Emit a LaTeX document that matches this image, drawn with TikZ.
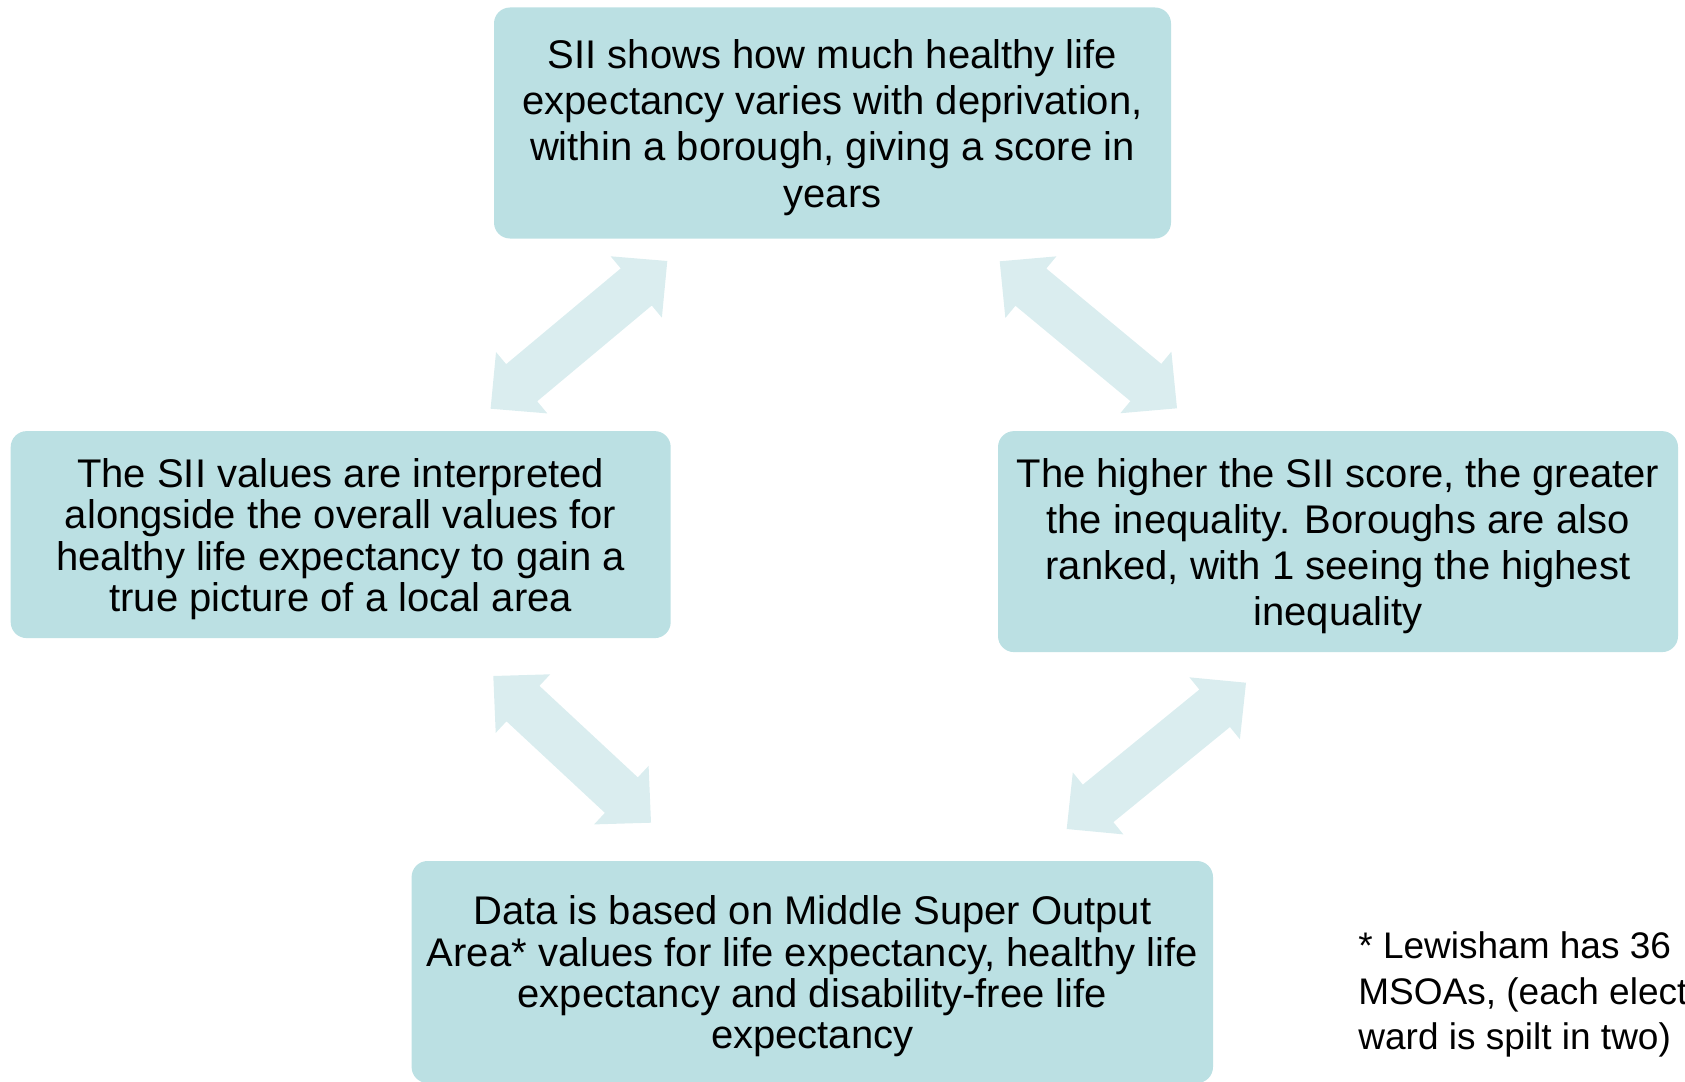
\documentclass[tikz,border=0pt]{standalone}
\usepackage{fontspec}
\setmainfont{Liberation Sans}
\usetikzlibrary{calc}
\definecolor{boxfill}{RGB}{187,224,227}
\definecolor{arrowfill}{RGB}{218,237,239}
\newcommand{\headlen}{20.25pt}
\newcommand{\headhalf}{20pt}
\newcommand{\shafthalf}{12.1pt}
\newcommand{\topgap}{\rule{0pt}{19pt}}
% block arrow with a head at both ends, #1 and #2 are the tips
\newcommand{\blockarrow}[2]{%
  \fill[arrowfill] (#1)
    -- ($(#1)!\headlen!(#2)!\headhalf!90:(#2)$)
    -- ($(#1)!\headlen!(#2)!\shafthalf!90:(#2)$)
    -- ($(#2)!\headlen!(#1)!\shafthalf!-90:(#1)$)
    -- ($(#2)!\headlen!(#1)!\headhalf!-90:(#1)$)
    -- (#2)
    -- ($(#2)!\headlen!(#1)!\headhalf!90:(#1)$)
    -- ($(#2)!\headlen!(#1)!\shafthalf!90:(#1)$)
    -- ($(#1)!\headlen!(#2)!\shafthalf!-90:(#2)$)
    -- ($(#1)!\headlen!(#2)!\headhalf!-90:(#2)$)
    -- cycle;}
\tikzset{box/.style={fill=boxfill, rounded corners=8pt, align=center, inner sep=0pt,
    font=\fontsize{20}{23.1}\selectfont},
  tight/.style={font=\fontsize{20}{20.7}\selectfont}}

\begin{document}
\begin{tikzpicture}[x=0.5pt,y=-0.5pt]
\useasboundingbox (0,0) rectangle (1685,1081);
\clip (0,0) rectangle (1685,1081);
\node[box, minimum width=338.5pt, minimum height=115.5pt] (sii) at (832.5,123)
  {\topgap SII shows how much healthy life\\ expectancy varies with deprivation,\\ within a borough, giving a score in\\ years};
\node[box, tight, minimum width=330pt, minimum height=103.5pt] (interp) at (340.7,534.6)
  {\topgap The SII values are interpreted\\ alongside the overall values for\\ healthy life expectancy to gain a\\ true picture of a local area};
\node[box, minimum width=340pt, minimum height=110.5pt] (higher) at (1338,541.6)
  {\topgap The higher the SII score, the greater\\ the inequality. Boroughs are also\\ ranked, with 1 seeing the highest\\ inequality};
\node[box, tight, minimum width=400.7pt, minimum height=111pt] (data) at (812.3,972)
  {\topgap Data is based on Middle Super Output\\ Area* values for life expectancy, healthy life\\ expectancy and disability-free life\\ expectancy};
\node[anchor=west, align=left, inner sep=0pt, font=\fontsize{18.5}{22.6}\selectfont] (note) at (1358,994.5)
  {* Lewisham has 36\\ MSOAs, (each electoral\\ ward is spilt in two)};
% arrow tips
\coordinate (tl-a) at (490.6,408.7);
\coordinate (tl-b) at (667.3,261);
\coordinate (tr-a) at (999.7,261.3);
\coordinate (tr-b) at (1177,408.3);
\coordinate (bl-a) at (493.3,676);
\coordinate (bl-b) at (651,822.7);
\coordinate (br-a) at (1246,682.7);
\coordinate (br-b) at (1066.7,829);
\blockarrow{tl-a}{tl-b}
\blockarrow{tr-a}{tr-b}
\blockarrow{bl-a}{bl-b}
\blockarrow{br-a}{br-b}
\end{tikzpicture}
\end{document}
